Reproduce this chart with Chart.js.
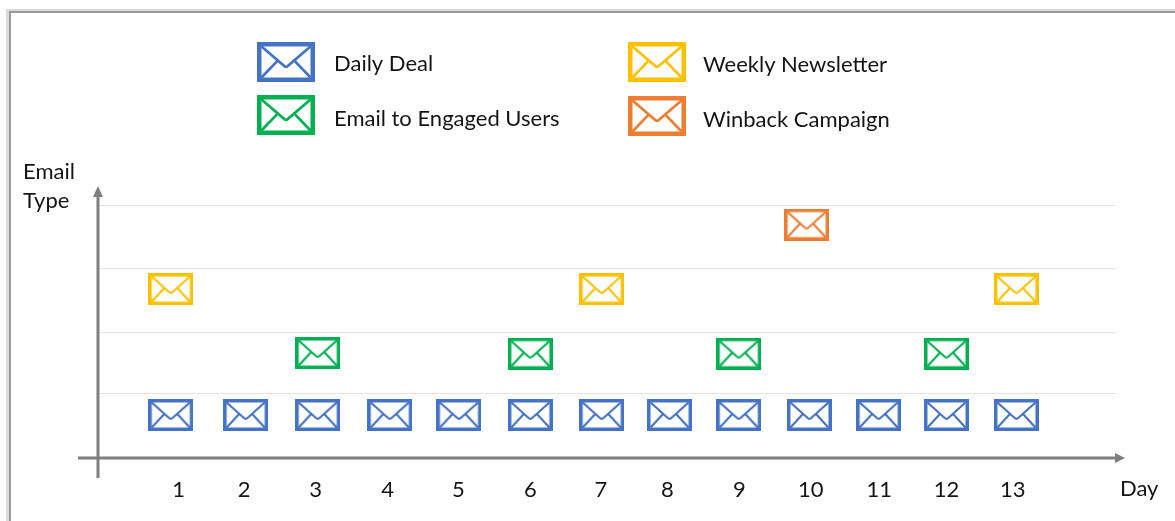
<!DOCTYPE html>
<html><head><meta charset="utf-8">
<script src="https://cdn.jsdelivr.net/npm/chart.js@4"></script>
<style>
html,body{margin:0;padding:0;background:#fff;overflow:hidden}
#wrap{position:relative;width:1175px;height:521px}
canvas{display:block}
</style></head>
<body><div id="wrap"><canvas id="c" width="1175" height="521"></canvas></div>
<script>
const days = ['1','2','3','4','5','6','7','8','9','10','11','12','13'];
// positions along the day axis
const labelDay = [1.09,2.02,3.03,4.05,5.05,6.07,7.07,8.01,9.03,10.04,11.01,11.96,12.9];
const dailyX = [0.98,2.04,3.06,4.08,5.06,6.07,7.08,8.04,9.02,10.02,11.0,11.96,12.95];
const dailyY = [0.68,0.68,0.68,0.68,0.68,0.68,0.68,0.68,0.68,0.68,0.68,0.68,0.68];
const engagedX = [3.06,6.07,9.02,11.96];
const engagedY = [1.66,1.65,1.65,1.65];
const newsletterX = [0.98,7.08,12.95];
const newsletterY = [2.67,2.67,2.67];
const winbackX = [9.98];
const winbackY = [3.69];
const gridLevels = [1.02,1.99,2.99,4];
const seriesNames = ['Daily Deal','Email to Engaged Users','Weekly Newsletter','Winback Campaign'];
const seriesColors = ['#4472C4','#00B050','#FFC000','#ED7D31'];
const FONT = 'Lato, Carlito, sans-serif';
const INK = '#141414';

function envelope(w,h,color,bw){
  const c=document.createElement('canvas');c.width=w;c.height=h;
  const g=c.getContext('2d');
  const t=bw*0.6;
  g.strokeStyle=color;g.lineJoin='miter';
  g.lineWidth=bw;g.strokeRect(bw/2,bw/2,w-bw,h-bw);
  g.lineWidth=t;
  const mx=w/2,my=h*0.62;
  g.beginPath();g.moveTo(bw,bw);g.lineTo(mx-w*0.04,my-h*0.03);
  g.quadraticCurveTo(mx,my+h*0.03,mx+w*0.04,my-h*0.03);g.lineTo(w-bw,bw);g.stroke();
  g.beginPath();g.moveTo(bw,h-bw);g.lineTo(w*0.36,h*0.46);g.stroke();
  g.beginPath();g.moveTo(w-bw,h-bw);g.lineTo(w*0.64,h*0.46);g.stroke();
  return c;
}
const icons = seriesColors.map(col=>envelope(45,32,col,3.5));
const bigIcons = seriesColors.map(col=>envelope(58,40,col,4.5));

function pts(xs,ys){return xs.map((x,i)=>({x,y:ys[i]}));}
const xsets=[dailyX,engagedX,newsletterX,winbackX], ysets=[dailyY,engagedY,newsletterY,winbackY];

const overlay={
  id:'overlay',
  beforeDraw(ch){
    const g=ch.ctx;
    g.save();
    g.fillStyle='#fff';g.fillRect(0,0,1175,521);
    // outer frame
    g.lineWidth=3;g.strokeStyle='#DADADA';
    g.beginPath();g.moveTo(7.5,521);g.lineTo(7.5,10.5);g.lineTo(1175,10.5);g.stroke();
    g.lineWidth=2;g.strokeStyle='#9A9A9A';
    g.beginPath();g.moveTo(10,521);g.lineTo(10,12);g.lineTo(1175,12);g.stroke();
    g.restore();
  },
  afterDatasetsDraw(ch){
    const g=ch.ctx,xS=ch.scales.x,yS=ch.scales.y;
    g.save();
    const ax='#7F7F7F';
    g.strokeStyle=ax;g.fillStyle=ax;g.lineWidth=3;
    const x0=xS.left,y0=yS.bottom;
    g.beginPath();g.moveTo(x0,y0+20);g.lineTo(x0,yS.top-10);g.stroke();
    g.beginPath();g.moveTo(x0-5,yS.top-8);g.lineTo(x0,yS.top-19);g.lineTo(x0+5,yS.top-8);g.closePath();g.fill();
    g.beginPath();g.moveTo(x0-20,y0);g.lineTo(xS.right,y0);g.stroke();
    g.beginPath();g.moveTo(xS.right-1,y0-5);g.lineTo(xS.right+9,y0);g.lineTo(xS.right-1,y0+5);g.closePath();g.fill();
    // texts
    g.fillStyle=INK;g.font='22px '+FONT;g.textBaseline='middle';g.textAlign='left';
    g.fillText('Email',23,172);g.fillText('Type',23,201);
    g.fillText('Day',1120,489);
    // legend
    const L=[[257,42,334,64],[257,95,334,119],[628,42,703,65],[628,96,703,120]];
    L.forEach((p,i)=>{g.drawImage(bigIcons[i],p[0],p[1]);g.fillText(seriesNames[i],p[2],p[3]);});
    g.restore();
  }
};

new Chart(document.getElementById('c'),{
  type:'scatter',
  data:{datasets:seriesNames.map((n,i)=>({
    label:n,data:pts(xsets[i],ysets[i]),
    pointStyle:icons[i],pointRadius:22,pointHoverRadius:22,
    backgroundColor:seriesColors[i],borderColor:seriesColors[i],showLine:false
  }))},
  options:{
    responsive:false,animation:false,
    plugins:{legend:{display:false},title:{display:false},tooltip:{enabled:false}},
    scales:{
      x:{type:'linear',position:'bottom',
        afterFit(s){s.height=63;s.paddingLeft=0;s.paddingRight=0;},
        min:-0.05,max:14.36,
        afterBuildTicks(s){s.ticks=labelDay.map(v=>({value:v}));},
        grid:{display:false},border:{display:false},
        ticks:{autoSkip:false,maxRotation:0,font:{family:FONT,size:22},color:INK,padding:11,
          callback(v){const i=labelDay.indexOf(v);return i>=0?days[i]:'';}}
      },
      y:{type:'linear',min:0,max:4,
        afterFit(s){s.width=98;},
        afterBuildTicks(s){s.ticks=gridLevels.map(v=>({value:v}));},
        grid:{color:'#E4E4E4',lineWidth:1,drawTicks:false},border:{display:false},
        ticks:{display:false}
      }
    },
    layout:{padding:{top:205,right:59,bottom:0,left:0}}
  },
  plugins:[overlay]
});
</script></body></html>
